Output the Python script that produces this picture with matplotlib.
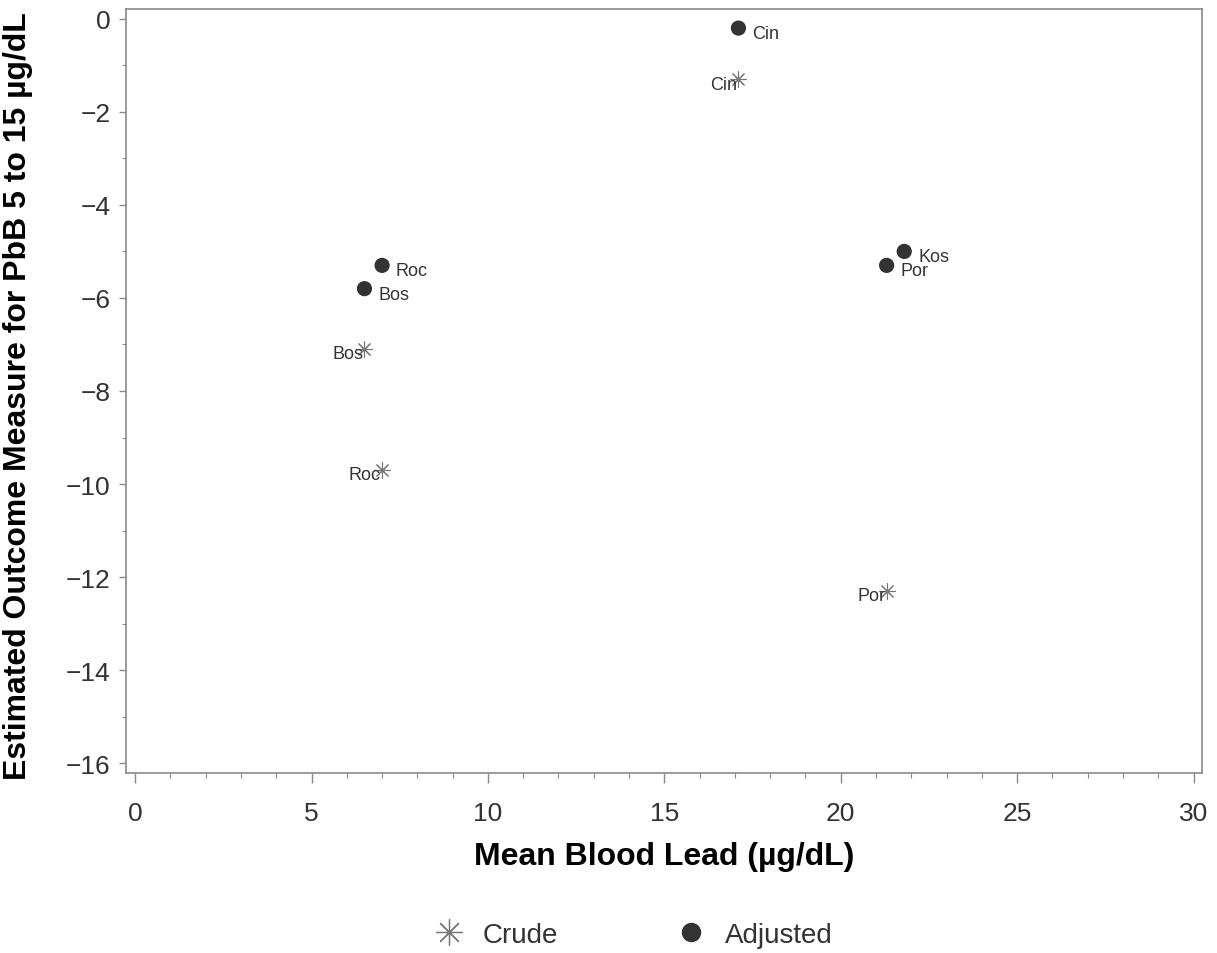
import matplotlib
matplotlib.use('Agg')
from matplotlib import pyplot as plt
from matplotlib.ticker import MultipleLocator
from matplotlib.lines import Line2D

plt.rcParams['font.family'] = ['Liberation Sans', 'DejaVu Sans']

# adjusted estimates (filled dots)
adj_site = ['Cin', 'Roc', 'Bos', 'Kos', 'Por']
adj_x = [17.1, 7.0, 6.5, 21.8, 21.3]
adj_y = [-0.2, -5.3, -5.8, -5.0, -5.3]

# crude estimates (stars)
crude_site = ['Cin', 'Bos', 'Roc', 'Por']
crude_x = [17.1, 6.5, 7.0, 21.3]
crude_y = [-1.3, -7.1, -9.7, -12.3]

star = (8, 2, 0)
txt_col = '#333333'
spine_col = '#8a8a8a'

fig = plt.figure(figsize=(12.17, 9.54), dpi=100)
ax = fig.add_axes([0.1035, 0.1887, 0.8839, 0.8008])

ax.scatter(crude_x, crude_y, marker=star, s=130, c='#777777', linewidths=0.8, zorder=3)
ax.scatter(adj_x, adj_y, marker='o', s=120, c='#333333', edgecolors='none', zorder=3)

for s, x, y in zip(adj_site, adj_x, adj_y):
    ax.annotate(s, (x, y), xytext=(10, -4), textcoords='offset points',
                ha='left', va='center', fontsize=13, color=txt_col)
for s, x, y in zip(crude_site, crude_x, crude_y):
    ax.annotate(s, (x, y), xytext=(-1, -3.5), textcoords='offset points',
                ha='right', va='center', fontsize=13, color=txt_col)

ax.set_xlim(-0.26, 30.23)
ax.set_ylim(-16.21, 0.21)
ax.xaxis.set_major_locator(MultipleLocator(5))
ax.xaxis.set_minor_locator(MultipleLocator(1))
ax.yaxis.set_major_locator(MultipleLocator(2))
ax.yaxis.set_minor_locator(MultipleLocator(1))

for sp in ax.spines.values():
    sp.set_color(spine_col)
    sp.set_linewidth(1.2)
ax.tick_params(which='both', color=spine_col, labelsize=19, labelcolor=txt_col)
ax.tick_params(axis='x', which='major', length=7, width=1, pad=13)
ax.tick_params(axis='x', which='minor', length=3.5, width=0.8)
ax.tick_params(axis='y', which='major', length=5, width=1, pad=6)
ax.tick_params(axis='y', which='minor', length=3, width=0.8)

ax.set_xlabel('Mean Blood Lead (µg/dL)', fontsize=23, fontweight='bold', labelpad=12)
ax.set_ylabel('Estimated Outcome Measure for PbB 5 to 15 µg/dL', fontsize=23,
              fontweight='bold')
ax.yaxis.set_label_coords(-0.0865, 0.495)

handles = [
    Line2D([], [], ls='none', marker=star, ms=19, mew=0.9, color='#777777'),
    Line2D([], [], ls='none', marker='o', ms=13, color='#333333'),
]
fig.legend(handles, ['Crude', 'Adjusted'], loc='center', bbox_to_anchor=(0.521, 0.019),
           ncol=2, frameon=False, fontsize=20, handlelength=1, columnspacing=4.3,
           handletextpad=0.7, labelcolor=txt_col)

fig.savefig('out.png', dpi=100)
plt.close(fig)
